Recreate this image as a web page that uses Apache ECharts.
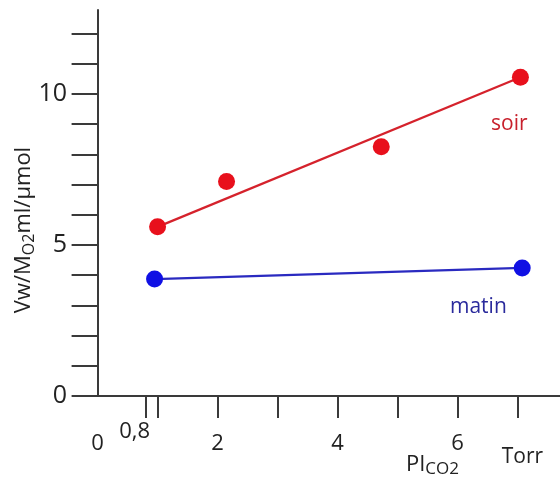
<!DOCTYPE html>
<html>
<head>
<meta charset="utf-8">
<script src="https://cdn.jsdelivr.net/npm/echarts@6/dist/echarts.min.js"></script>
<style>html,body{margin:0;padding:0;background:#fff}#c{width:560px;height:482px}</style>
</head>
<body>
<div id="c"></div>
<script>
// ---- data ----
var soirX = [1.0, 2.15, 4.73, 7.05];
var soirY = [5.6, 7.1, 8.25, 10.55];
var matinX = [0.95, 7.08];
var matinY = [3.87, 4.24];
var xTickValues = [0.8, 1, 2, 3, 4, 5, 6, 7];
var xLabelValues = [0, 0.8, 2, 4, 6, 7];
var xLabelTexts = ['0', '0,8', '2', '4', '6', 'Torr'];
var yLabelValues = [0, 5, 10];

function pairs(xs, ys) { return xs.map(function (x, i) { return [x, ys[i]]; }); }
var soirPts = pairs(soirX, soirY);
var matinPts = pairs(matinX, matinY);
var soirLine = [soirPts[0], soirPts[soirPts.length - 1]];
var matinLine = [matinPts[0], matinPts[matinPts.length - 1]];

var FONT = 'Open Sans';
var chart = echarts.init(document.getElementById('c'), null, { renderer: 'canvas' });
var axisColor = '#3a3a3a';
chart.setOption({
  animation: false,
  grid: { left: 73, right: 0, top: 10, bottom: 86, containLabel: false, outerBoundsMode: 'none' },
  xAxis: {
    type: 'value', min: -0.41, max: 7.71,
    splitLine: { show: false },
    axisLine: { onZero: false, lineStyle: { color: axisColor, width: 2 } },
    axisTick: { show: true, inside: false, length: 22, customValues: xTickValues, lineStyle: { color: axisColor, width: 2 } },
    axisLabel: {
      customValues: xLabelValues, margin: 23, color: '#222', fontFamily: FONT, fontSize: 22,
      formatter: function (v) {
        var i = xLabelValues.indexOf(v);
        if (i < 0) return '';
        var t = xLabelTexts[i];
        if (t === '0,8') return '{a|' + t + '}';
        if (t === 'Torr') return '{t|' + t + '}';
        return '{n|' + t + '}';
      },
      rich: {
        a: { fontFamily: FONT, fontSize: 22, lineHeight: 26, color: '#222', padding: [0, 22, 0, 0] },
        n: { fontFamily: FONT, fontSize: 22, lineHeight: 50, color: '#222' },
        t: { fontFamily: FONT, fontSize: 21, lineHeight: 76, color: '#222', padding: [0, 0, 0, 10] }
      }
    },
    name: '{m|PI}{s|CO2}',
    nameLocation: 'middle', nameGap: 58, nameMoveOverlap: false,
    nameTextStyle: {
      padding: [0, 0, 0, 232],
      rich: {
        m: { fontFamily: FONT, fontSize: 22, color: '#222', verticalAlign: 'top', lineHeight: 24, padding: [0, 0, 8, 0] },
        s: { fontFamily: FONT, fontSize: 17, color: '#222', verticalAlign: 'bottom', lineHeight: 18 }
      }
    }
  },
  yAxis: {
    type: 'value', min: 0, max: 12.78, interval: 1,
    splitLine: { show: false },
    axisLine: { onZero: true, lineStyle: { color: axisColor, width: 2 } },
    axisTick: { show: true, inside: false, length: 26, lineStyle: { color: axisColor, width: 2 } },
    axisLabel: {
      margin: 6, color: '#222', fontFamily: FONT, fontSize: 25,
      showMaxLabel: false,
      formatter: function (v) { return yLabelValues.indexOf(v) >= 0 ? String(v) : ''; }
    },
    name: '{m|Vw/M}{s|O2}{m|ml/µmol}',
    nameLocation: 'middle', nameGap: 36, nameRotate: 90, nameMoveOverlap: false,
    nameTextStyle: {
      padding: [0, 54, 0, 0],
      rich: {
        m: { fontFamily: FONT, fontSize: 22, color: '#222', verticalAlign: 'top', lineHeight: 24, padding: [0, 0, 8, 0] },
        s: { fontFamily: FONT, fontSize: 16, color: '#222', verticalAlign: 'bottom', lineHeight: 17 }
      }
    }
  },
  series: [
    { type: 'line', data: soirLine, symbol: 'none', silent: true,
      lineStyle: { color: '#d5222c', width: 2.2 }, z: 2 },
    { type: 'line', data: matinLine, symbol: 'none', silent: true,
      lineStyle: { color: '#2a2ac0', width: 2.2 }, z: 2 },
    { type: 'scatter', data: soirPts, symbolSize: 17, itemStyle: { color: '#e8101c', opacity: 1 }, z: 3 },
    { type: 'scatter', data: matinPts, symbolSize: 17, itemStyle: { color: '#1010e4', opacity: 1 }, z: 3 }
  ],
  graphic: [
    { type: 'text', left: 491, top: 114, style: { text: 'soir', fill: '#c8202c', font: '21px "Open Sans"' } },
    { type: 'text', left: 450, top: 297, style: { text: 'matin', fill: '#2a2a9c', font: '21px "Open Sans"' } }
  ]
});
</script>
</body>
</html>
